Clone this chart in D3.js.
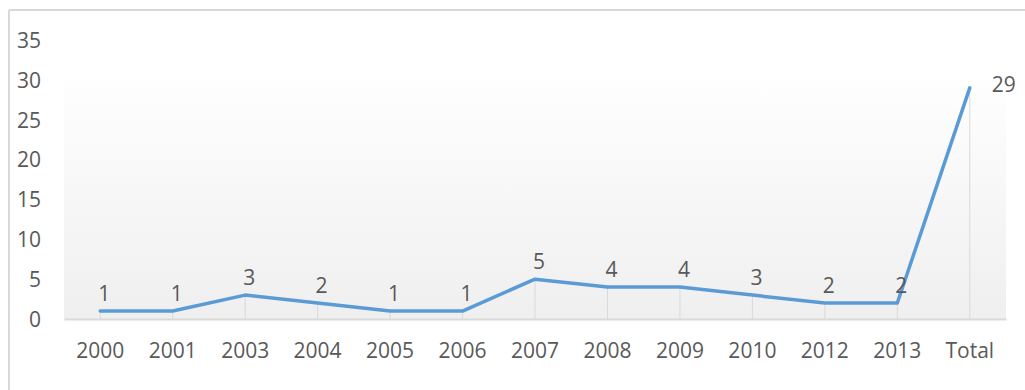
<!DOCTYPE html>
<html><head><meta charset="utf-8">
<script src="https://cdn.jsdelivr.net/npm/d3@7"></script>
<style>html,body{margin:0;padding:0;background:#fff;}svg{display:block;}</style>
</head><body>
<svg id="c" width="1025" height="390"></svg>
<script>
const categories = ["2000","2001","2003","2004","2005","2006","2007","2008","2009","2010","2012","2013","Total"];
const values = [1,1,3,2,1,1,5,4,4,3,2,2,29];
const yTicks = [0,5,10,15,20,25,30,35];

const svg = d3.select("#c");
const W = 1025, H = 390;
const plot = {left: 64, right: 1006, top: 40, bottom: 319};
const font = "'Open Sans', 'Liberation Sans', sans-serif";
const textColor = "#595959";

// outer chart border (top & left visible)
svg.append("line").attr("x1", 9).attr("x2", W).attr("y1", 10).attr("y2", 10)
  .attr("stroke", "#d9d9d9").attr("stroke-width", 2);
svg.append("line").attr("x1", 9).attr("x2", 9).attr("y1", 10).attr("y2", H)
  .attr("stroke", "#d9d9d9").attr("stroke-width", 2);

const x = d3.scaleBand().domain(categories).range([plot.left, plot.right]).padding(0);
const y = d3.scaleLinear().domain([0, 35]).range([plot.bottom, plot.top]);

// plot area gradient
const defs = svg.append("defs");
const grad = defs.append("linearGradient").attr("id", "bg").attr("x1", 0).attr("x2", 0).attr("y1", 0).attr("y2", 1);
grad.append("stop").attr("offset", "0%").attr("stop-color", "#ffffff");
grad.append("stop").attr("offset", "100%").attr("stop-color", "#efefef");
svg.append("rect").attr("x", plot.left).attr("y", y(31.25))
  .attr("width", plot.right - plot.left).attr("height", plot.bottom - y(31.25))
  .attr("fill", "url(#bg)");

// y axis labels
const yAxis = d3.axisLeft(y).tickValues(yTicks).tickSize(0).tickPadding(0);
const gy = svg.append("g").attr("transform", "translate(41,0)").call(yAxis);
gy.select(".domain").remove();
gy.selectAll("text").attr("font-family", font).attr("font-size", 21).attr("fill", textColor).attr("dy", "0.35em");

// drop lines
const cx = d => x(d) + x.bandwidth() / 2;
svg.append("g").selectAll("line").data(categories).join("line")
  .attr("x1", d => cx(d)).attr("x2", d => cx(d))
  .attr("y1", (d, i) => y(values[i])).attr("y2", plot.bottom)
  .attr("stroke", "#d9d9d9").attr("stroke-width", 1);

// baseline / x axis
const xAxis = d3.axisBottom(x).tickSize(0).tickPadding(0);
const gx = svg.append("g").attr("transform", `translate(0,${plot.bottom})`).call(xAxis);
gx.select(".domain").attr("stroke", "#d9d9d9").attr("stroke-width", 2);
gx.selectAll("text").attr("font-family", font).attr("font-size", 21).attr("fill", textColor)
  .attr("y", 32).attr("dy", "0.35em");

// line
const line = d3.line().x((d, i) => cx(categories[i])).y(d => y(d));
svg.append("path").datum(values).attr("d", line)
  .attr("fill", "none").attr("stroke", "#5b9bd5").attr("stroke-width", 3.5)
  .attr("stroke-linejoin", "round").attr("stroke-linecap", "round");

// data labels
const n = values.length;
svg.append("g").selectAll("text").data(values).join("text")
  .attr("x", (d, i) => i === n - 1 ? cx(categories[i]) + 22 : cx(categories[i]) + 4)
  .attr("y", (d, i) => i === n - 1 ? y(d) - 3 : y(d) - 17)
  .attr("text-anchor", (d, i) => i === n - 1 ? "start" : "middle")
  .attr("dy", "0.35em")
  .attr("font-family", font).attr("font-size", 21).attr("fill", textColor)
  .text(d => d);
</script>
</body></html>
